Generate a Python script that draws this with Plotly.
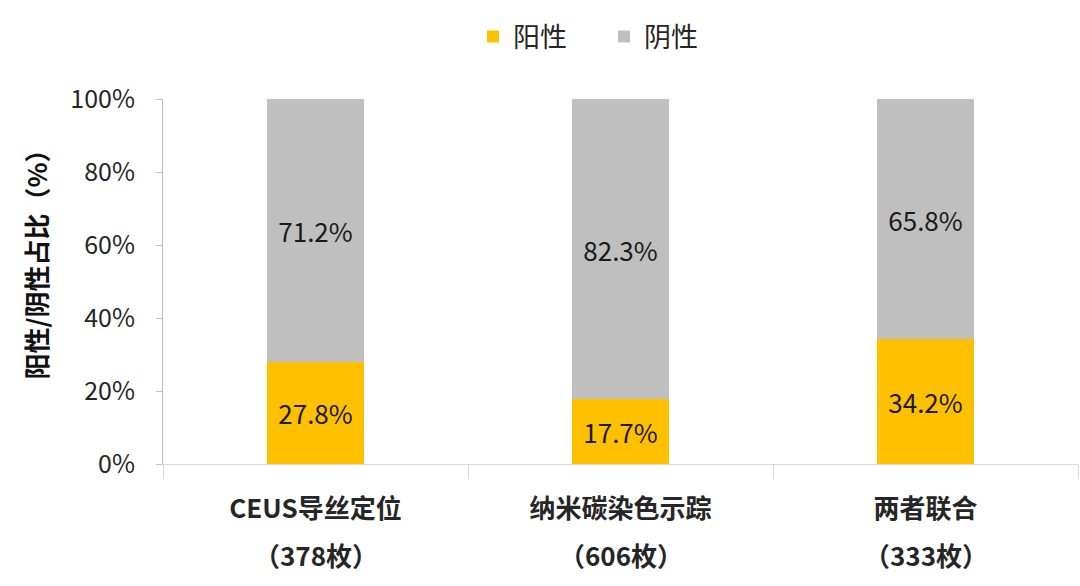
import plotly.graph_objects as go

categories = ["CEUS导丝定位", "纳米碳染色示踪", "两者联合"]
counts = ["（378枚）", "（606枚）", "（333枚）"]
positive = [27.8, 17.7, 34.2]
negative = [71.2, 82.3, 65.8]
series_names = ["阳性", "阴性"]
y_ticks = [0, 20, 40, 60, 80, 100]
y_title = "阳性/阴性占比（%）"

FONT = "Noto Sans CJK SC, Microsoft YaHei, sans-serif"
x_labels = [f"<b>{c}</b>" for c in categories]

fig = go.Figure()
fig.add_trace(go.Bar(
    x=x_labels, y=positive, name=series_names[0],
    marker=dict(color="#ffc000", line=dict(width=0)),
    text=[f"{v:.1f}%" for v in positive], textposition="inside",
    insidetextanchor="middle", textangle=0,
    textfont=dict(size=26, color="#1a1a1a", family=FONT),
))
fig.add_trace(go.Bar(
    x=x_labels, y=negative, name=series_names[1],
    marker=dict(color="#bfbfbf", line=dict(width=0)),
    text=[f"{v:.1f}%" for v in negative], textposition="inside",
    insidetextanchor="middle", textangle=0,
    textfont=dict(size=26, color="#1a1a1a", family=FONT),
))

for lab, cnt in zip(x_labels, counts):
    fig.add_annotation(x=lab, xref="x", y=-0.249, yref="paper",
                       text=f"<b>{cnt}</b>", showarrow=False,
                       font=dict(size=26, color="#262626", family=FONT),
                       yanchor="middle")

fig.add_annotation(x=-0.139, xref="paper", y=0.565, yref="paper",
                   text=f"<b>{y_title}</b>", textangle=-90, showarrow=False,
                   font=dict(size=26, color="#111111", family=FONT),
                   xanchor="center", yanchor="middle")

fig.update_layout(
    barmode="stack", barnorm="percent", bargap=0.685,
    width=1080, height=586,
    margin=dict(l=163, r=2, t=99, b=122, autoexpand=False),
    paper_bgcolor="white", plot_bgcolor="white",
    font=dict(family=FONT, size=22, color="#262626"),
    legend=dict(orientation="h", xref="container", yref="container",
                x=0.438, xanchor="left", y=0.937, yanchor="middle",
                font=dict(size=27, color="#262626", family=FONT),
                itemwidth=30, traceorder="normal",
                entrywidth=86, entrywidthmode="pixels"),
    showlegend=True,
)
fig.update_yaxes(
    range=[0, 100], tickvals=y_ticks, ticktext=[f"{v}%" for v in y_ticks],
    showgrid=False, zeroline=False, automargin=False,
    showline=True, linecolor="#bfbfbf", linewidth=1,
    ticks="outside", ticklen=6, tickcolor="#bfbfbf",
    ticklabelstandoff=16,
    tickfont=dict(size=25, color="#262626", family=FONT),
)
fig.update_xaxes(
    showgrid=False, showline=True, linecolor="#d9d9d9", linewidth=1,
    automargin=False,
    ticks="outside", tickson="boundaries", ticklen=14, tickcolor="#d9d9d9",
    ticklabelstandoff=22,
    tickfont=dict(size=26, color="#262626", family=FONT),
)

fig.write_html("out.html", config={"displayModeBar": False},
               post_script="document.body.style.margin='0';document.body.style.padding='0';")
